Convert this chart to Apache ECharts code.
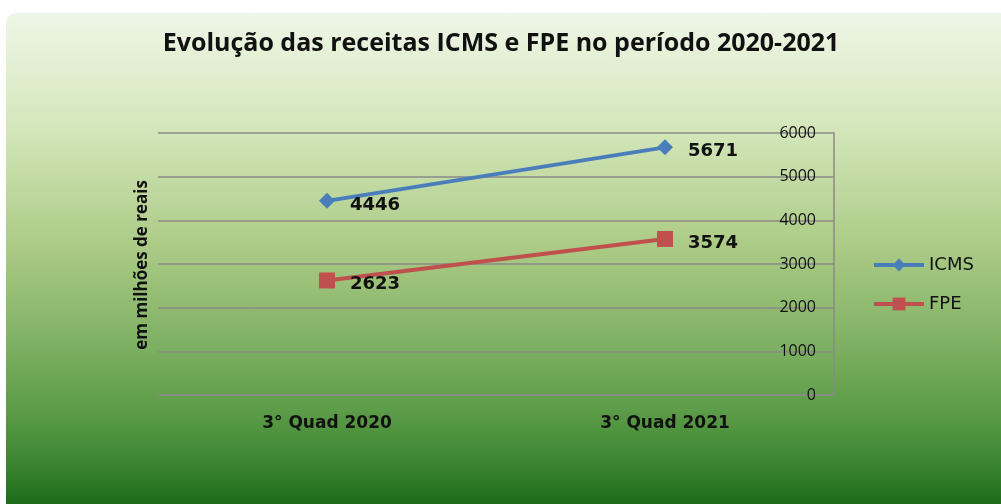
<!DOCTYPE html>
<html>
<head>
<meta charset="utf-8">
<script src="https://cdn.jsdelivr.net/npm/echarts@6/dist/echarts.min.js"></script>
<style>
  html, body { margin: 0; padding: 0; background: #ffffff; }
  #panel {
    position: absolute; left: 6px; top: 13px; width: 995px; height: 491px;
    border-top-left-radius: 10px;
    background: linear-gradient(to bottom, #eff6e7 0%, #d3e6b9 24%, #abca85 48%, #7db062 68%, #5a9a46 82%, #3a8430 92%, #1d6c1a 100%);
  }
  #chart { position: absolute; left: -6px; top: -13px; width: 1001px; height: 504px; }
</style>
</head>
<body>
<div id="panel"><div id="chart"></div></div>
<script>
  var categories = ["3° Quad 2020", "3° Quad 2021"];
  var icmsValues = [4446, 5671];
  var fpeValues = [2623, 3574];

  var chart = echarts.init(document.getElementById("chart"));
  var labelStyle = {
    show: true,
    position: "right",
    distance: 15,
    offset: [0, 4],
    color: "#111111",
    fontWeight: "bold",
    fontSize: 18,
    fontFamily: "DejaVu Sans",
  };
  var option = {
    backgroundColor: "transparent",
    textStyle: { fontFamily: "Open Sans" },
    title: {
      text: "Evolução das receitas ICMS e FPE no período 2020-2021",
      left: 496,
      textAlign: "center",
      top: 26,
      textStyle: { fontSize: 25, fontWeight: "bold", color: "#111111", fontFamily: "Open Sans" },
    },
    legend: {
      orient: "vertical",
      left: 872,
      top: 256,
      padding: 0,
      itemWidth: 50,
      itemHeight: 16,
      itemGap: 21,
      lineStyle: { width: 4 },
      textStyle: { fontSize: 18, color: "#111111", fontFamily: "DejaVu Sans" },
      data: ["ICMS", "FPE"],
    },
    graphic: [
      {
        type: "text",
        left: 134,
        top: 180,
        rotation: Math.PI / 2,
        style: {
          text: "em milhões de reais",
          fontSize: 17,
          fontWeight: "bold",
          fill: "#111111",
          fontFamily: "Open Sans",
        },
      },
    ],
    grid: { left: 158, right: 167, top: 133, bottom: 109 },
    xAxis: {
      type: "category",
      data: categories,
      axisLine: { lineStyle: { color: "#8a8a8a", width: 1.5 } },
      axisTick: { show: false },
      axisLabel: { margin: 20, fontSize: 17, fontWeight: "bold", color: "#111111", fontFamily: "DejaVu Sans" },
    },
    yAxis: {
      type: "value",
      position: "right",
      min: 0,
      max: 6000,
      interval: 1000,
      axisLine: { show: true, lineStyle: { color: "#8a8a8a", width: 1.5 } },
      axisTick: { show: false },
      axisLabel: {
        inside: true,
        margin: 18,
        fontSize: 16,
        color: "#111111",
        formatter: function (v) { return String(v); },
      },
      splitLine: { lineStyle: { color: "#8a8a8a", width: 1.5 } },
    },
    series: [
      {
        name: "ICMS",
        type: "line",
        data: icmsValues,
        symbol: "diamond",
        symbolSize: 16,
        lineStyle: { width: 4, color: "#4a7ebb" },
        itemStyle: { color: "#4a7ebb" },
        label: labelStyle,
      },
      {
        name: "FPE",
        type: "line",
        data: fpeValues,
        symbol: "rect",
        symbolSize: 16,
        lineStyle: { width: 4, color: "#c0504d" },
        itemStyle: { color: "#c0504d" },
        label: labelStyle,
      },
    ],
  };
  chart.setOption(option);
</script>
</body>
</html>
